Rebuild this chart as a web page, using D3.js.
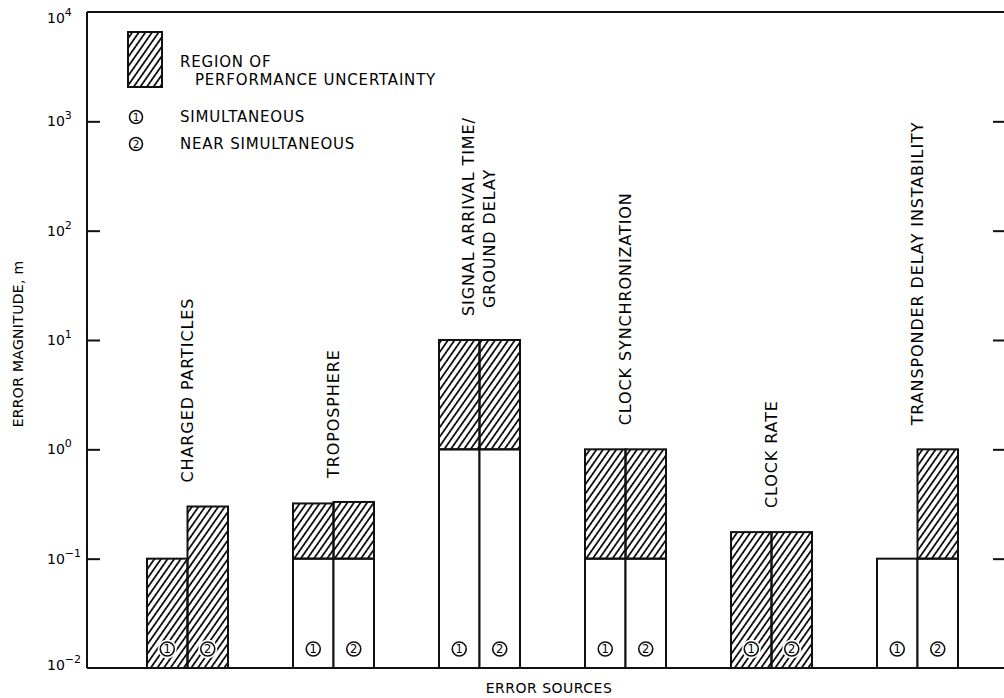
<!DOCTYPE html>
<html>
<head>
<meta charset="utf-8">
<script src="https://cdn.jsdelivr.net/npm/d3@7"></script>
<style>
  html, body { margin: 0; padding: 0; background: #fff; }
  svg { display: block; }
  text { font-family: "DejaVu Sans", sans-serif; fill: #000; }
</style>
</head>
<body>
<svg id="chart" width="1004" height="698"></svg>
<script>
// ---- data ----
const categories = ["CHARGED PARTICLES", "TROPOSPHERE", "SIGNAL ARRIVAL TIME/GROUND DELAY",
                    "CLOCK SYNCHRONIZATION", "CLOCK RATE", "TRANSPONDER DELAY INSTABILITY"];
const categoryLabelLines = [["CHARGED PARTICLES"], ["TROPOSPHERE"], ["SIGNAL ARRIVAL TIME/", "GROUND DELAY"],
                            ["CLOCK SYNCHRONIZATION"], ["CLOCK RATE"], ["TRANSPONDER DELAY INSTABILITY"]];
const modes = ["1", "2"];
const modeNames = ["SIMULTANEOUS", "NEAR SIMULTANEOUS"];
// lower = top of the certain (white) part, upper = top of the uncertainty (hatched) region
const simultaneousLower = [0.01, 0.1, 1, 0.1, 0.01, 0.1];
const simultaneousUpper = [0.1, 0.32, 10, 1, 0.175, 0.1];
const nearSimultaneousLower = [0.01, 0.1, 1, 0.1, 0.01, 0.1];
const nearSimultaneousUpper = [0.3, 0.33, 10, 1, 0.175, 1];
const tickExponents = [-2, -1, 0, 1, 2, 3, 4];
const yDomain = [1e-2, 1e4];
const yTitle = "ERROR MAGNITUDE, m";
const xTitle = "ERROR SOURCES";
const legendHatchLines = ["REGION OF", "PERFORMANCE UNCERTAINTY"];

(function () {
// ---- layout ----
const svg = d3.select("#chart");
const L = 87, R = 1004, T = 12, B = 668;

const y = d3.scaleLog().domain(yDomain).range([B, T]);
const x0 = d3.scalePoint().domain(categories).range([114.5, 990.5]).padding(0.5);
const x1 = d3.scaleBand().domain(modes).range([-40.5, 40.5]);

const lowers = [simultaneousLower, nearSimultaneousLower];
const uppers = [simultaneousUpper, nearSimultaneousUpper];
const bars = [];
categories.forEach((c, i) => modes.forEach((m, j) => {
  bars.push({cat: c, mode: m, lower: lowers[j][i], upper: uppers[j][i]});
}));

// hatch pattern
const defs = svg.append("defs");
defs.append("pattern")
  .attr("id", "hatch").attr("patternUnits", "userSpaceOnUse")
  .attr("width", 5.4).attr("height", 10)
  .attr("patternTransform", "rotate(35)")
  .append("line")
  .attr("x1", 2.7).attr("y1", -2).attr("x2", 2.7).attr("y2", 12)
  .attr("stroke", "#111").attr("stroke-width", 1.8);

// ---- bars ----
const barG = svg.append("g").selectAll("g.bar").data(bars).join("g").attr("class", "bar")
  .attr("transform", d => `translate(${x0(d.cat) + x1(d.mode)},0)`);
const bw = x1.bandwidth();

barG.filter(d => d.lower > yDomain[0]).append("rect")
  .attr("x", 0).attr("width", bw)
  .attr("y", d => y(d.lower)).attr("height", d => y(yDomain[0]) - y(d.lower))
  .attr("fill", "#fff").attr("stroke", "#111").attr("stroke-width", 2);
barG.filter(d => d.upper > d.lower).append("rect")
  .attr("x", 0).attr("width", bw)
  .attr("y", d => y(d.upper)).attr("height", d => y(d.lower) - y(d.upper))
  .attr("fill", "url(#hatch)").attr("stroke", "#111").attr("stroke-width", 2);

// circled numbers at bar feet
const cy = B - 19;
barG.append("circle").attr("cx", bw / 2).attr("cy", cy).attr("r", 9.5).attr("fill", "#fff");
barG.append("circle").attr("cx", bw / 2).attr("cy", cy).attr("r", 7)
  .attr("fill", "#fff").attr("stroke", "#111").attr("stroke-width", 1.6);
barG.append("text").attr("x", bw / 2).attr("y", cy + 4.2).attr("text-anchor", "middle")
  .attr("font-size", 11.5).text(d => d.mode);

// ---- category labels (vertical) ----
categories.forEach((c, i) => {
  const lines = categoryLabelLines[i];
  const topVal = Math.max(simultaneousUpper[i], nearSimultaneousUpper[i]);
  const base = y(topVal) - 24;
  lines.forEach((ln, k) => {
    const xx = x0(c) + 5 + (k - (lines.length - 1) / 2) * 21;
    svg.append("text")
      .attr("transform", `translate(${xx},${base - k * 8}) rotate(-90)`)
      .attr("font-size", 16).attr("letter-spacing", 0.9).attr("text-anchor", "start")
      .text(ln);
  });
});

// ---- axes frame ----
svg.append("line").attr("x1", L).attr("x2", L).attr("y1", T).attr("y2", B)
  .attr("stroke", "#111").attr("stroke-width", 2);
svg.append("line").attr("x1", L).attr("x2", R).attr("y1", B).attr("y2", B)
  .attr("stroke", "#111").attr("stroke-width", 2);
svg.append("line").attr("x1", L).attr("x2", R).attr("y1", T).attr("y2", T)
  .attr("stroke", "#111").attr("stroke-width", 2);

const tickVals = tickExponents.map(e => Math.pow(10, e));
const leftAxis = d3.axisRight(y).tickValues(tickVals.slice(1, -1)).tickSize(13).tickFormat("");
svg.append("g").attr("transform", `translate(${L},0)`).call(leftAxis)
  .call(s => s.select(".domain").remove())
  .call(s => s.selectAll(".tick line").attr("stroke", "#111").attr("stroke-width", 2));
const rightAxis = d3.axisLeft(y).tickValues(tickVals.slice(1, -1)).tickSize(11).tickFormat("");
svg.append("g").attr("transform", `translate(${R},0)`).call(rightAxis)
  .call(s => s.select(".domain").remove())
  .call(s => s.selectAll(".tick line").attr("stroke", "#111").attr("stroke-width", 2));

tickExponents.forEach(e => {
  let yy = y(Math.pow(10, e)) + 5;
  if (e === 4) yy += 6;
  if (e === -2) yy -= 3;
  const t = svg.append("text").attr("x", 47).attr("y", yy).attr("font-size", 14);
  t.append("tspan").text("10");
  t.append("tspan").attr("dy", -7).attr("font-size", 11).text(e < 0 ? "\u2212" + Math.abs(e) : String(e));
});

svg.append("text").attr("transform", `translate(23,344) rotate(-90)`)
  .attr("text-anchor", "middle").attr("font-size", 14).attr("letter-spacing", 0.3).text(yTitle);
svg.append("text").attr("x", 549).attr("y", 693).attr("text-anchor", "middle")
  .attr("font-size", 14).attr("letter-spacing", 0.5).text(xTitle);

// ---- legend ----
const lg = svg.append("g");
lg.append("rect").attr("x", 128).attr("y", 32).attr("width", 34).attr("height", 55)
  .attr("fill", "url(#hatch)").attr("stroke", "#111").attr("stroke-width", 2);
lg.append("text").attr("x", 180).attr("y", 67).attr("font-size", 15).attr("letter-spacing", 0.8).text(legendHatchLines[0]);
lg.append("text").attr("x", 195).attr("y", 85).attr("font-size", 15).attr("letter-spacing", 0.8).text(legendHatchLines[1]);
modes.forEach((m, j) => {
  const yy = 117 + j * 27;
  lg.append("circle").attr("cx", 136).attr("cy", yy).attr("r", 6.5)
    .attr("fill", "#fff").attr("stroke", "#111").attr("stroke-width", 1.6);
  lg.append("text").attr("x", 136).attr("y", yy + 4).attr("text-anchor", "middle")
    .attr("font-size", 10.5).text(m);
  lg.append("text").attr("x", 180).attr("y", yy + 5).attr("font-size", 15).attr("letter-spacing", 0.8).text(modeNames[j]);
});
})();
</script>
</body>
</html>
